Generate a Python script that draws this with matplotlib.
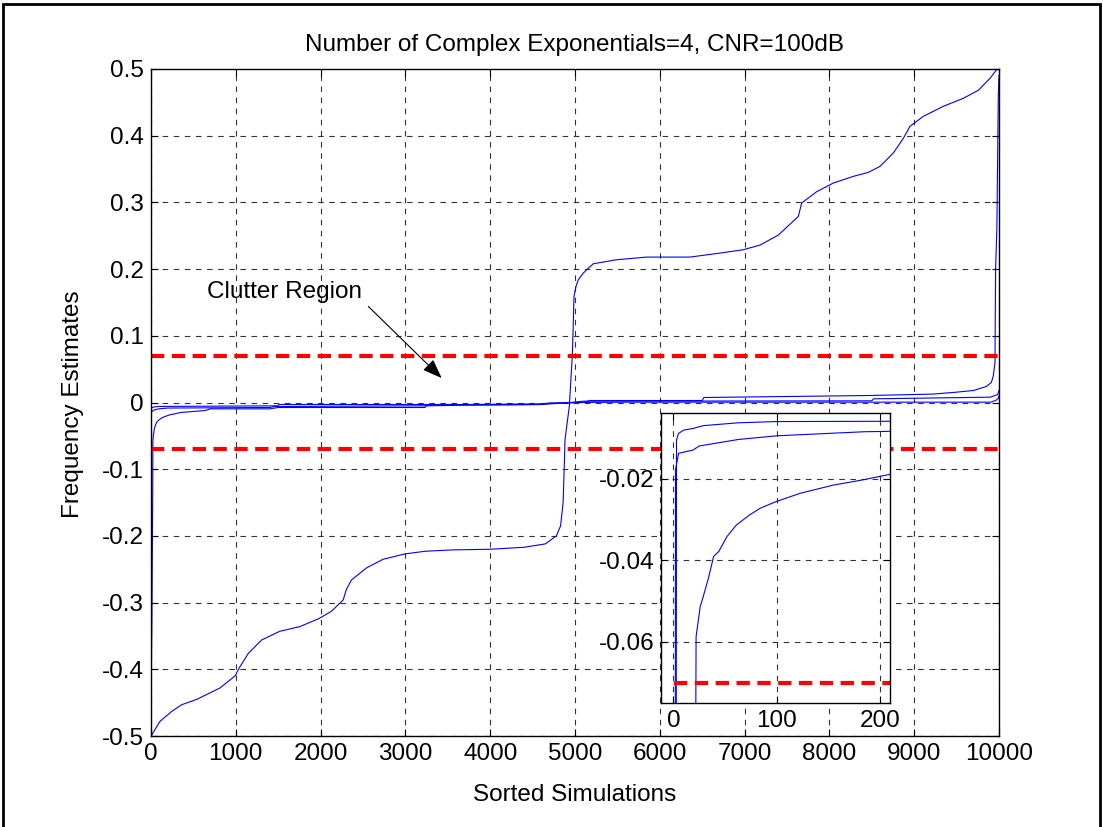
import numpy as np
import matplotlib
matplotlib.use("Agg")
import matplotlib.pyplot as plt
from matplotlib.patches import Rectangle
from matplotlib.ticker import FuncFormatter

plt.rcParams['font.family'] = ['Liberation Sans', 'DejaVu Sans']
plt.rcParams['axes.unicode_minus'] = False

# sorted frequency estimates, one array per estimate index
a_x = [1, 106, 245, 363, 540, 813, 990, 1050, 1148, 1305, 1518, 1754, 1979, 2128, 2266, 2305,
       2364, 2541, 2737, 2995, 3231, 3546, 4000, 4400, 4650, 4780, 4830, 4860, 4875, 4882, 4902,
       4933, 4949, 4968, 4980, 4988, 5012, 5039, 5098, 5137, 5216, 5492, 5846, 6356, 6710, 6985,
       7182, 7398, 7634, 7673, 7850, 8046, 8282, 8459, 8597, 8754, 8872, 8950, 9108, 9343, 9579,
       9756, 9894, 9972, 10000]
a_y = [-0.500, -0.478, -0.463, -0.453, -0.445, -0.428, -0.410, -0.396, -0.376, -0.356, -0.343,
       -0.336, -0.324, -0.313, -0.296, -0.280, -0.266, -0.248, -0.235, -0.227, -0.223, -0.221,
       -0.220, -0.217, -0.212, -0.200, -0.185, -0.150, -0.090, -0.056, -0.036, -0.006, 0.029,
       0.069, 0.119, 0.159, 0.174, 0.184, 0.194, 0.199, 0.208, 0.214, 0.218, 0.218, 0.224, 0.229,
       0.236, 0.251, 0.279, 0.299, 0.316, 0.329, 0.339, 0.345, 0.354, 0.374, 0.396, 0.414, 0.429,
       0.444, 0.456, 0.468, 0.486, 0.499, 0.500]

b_x = [1, 2, 3, 5, 10, 19, 29, 63, 100, 1500, 1510, 3700, 4600, 4700, 5000, 5600, 9900, 9960,
       9990, 10000]
b_y = [-0.46, -0.30, -0.0104, -0.0088, -0.0080, -0.0076, -0.0069, -0.0062, -0.0059, -0.0050,
       -0.0030, -0.0030, -0.0020, -0.0010, 0.0000, 0.0005, 0.0005, 0.0030, 0.0060, 0.0100]

c_x = [1, 2, 5, 19, 25, 51, 63, 100, 134, 185, 210, 1400, 1450, 3230, 3250, 4600, 4950, 5100,
       8500, 8520, 9900, 9985, 10000]
c_y = [-0.46, -0.0178, -0.0137, -0.0129, -0.0119, -0.0108, -0.0103, -0.0094, -0.0090, -0.0084,
       -0.0083, -0.0075, -0.0060, -0.0050, -0.0040, -0.0030, 0.0000, 0.0020, 0.0025, 0.0055,
       0.0080, 0.0120, 0.0180]

d_x = [1, 12, 21, 22, 26, 29, 34, 39, 44, 52, 61, 74, 84, 99, 123, 155, 184, 211, 350, 640, 700,
       1400, 1500, 3230, 3250, 3700, 4600, 4700, 5100, 5180, 6500, 6520, 8480, 9220, 9500, 9700,
       9850, 9910, 9933, 9953, 9960, 9975, 9992, 10000]
d_y = [-0.46, -0.30, -0.12, -0.0587, -0.0513, -0.0488, -0.0443, -0.0390, -0.0378, -0.0341,
       -0.0313, -0.0288, -0.0272, -0.0256, -0.0235, -0.0215, -0.0202, -0.0188, -0.0150, -0.0120,
       -0.0095, -0.0095, -0.0075, -0.0075, -0.0050, -0.0040, -0.0030, -0.0010, 0.0000, 0.0030,
       0.0030, 0.0075, 0.0105, 0.0126, 0.0155, 0.0180, 0.0240, 0.0300, 0.0400, 0.0600, 0.2000,
       0.2600, 0.4600, 0.4900]

n_sim = 10000
clutter_edge = 0.07

main_xticks = list(range(0, 10001, 1000))
main_yticks = [-0.5, -0.4, -0.3, -0.2, -0.1, 0, 0.1, 0.2, 0.3, 0.4, 0.5]
zoom_xticks = [0, 100, 200]
zoom_yticks = [-0.06, -0.04, -0.02]

curves = [(a_x, a_y), (b_x, b_y), (c_x, c_y), (d_x, d_y)]

FS = 17.5
grid_kw = dict(color='0.2', linestyle=(0, (5, 5)), linewidth=0.8)
red_kw = dict(color='red', linewidth=3.0, linestyle=(0, (3.2, 1.8)))


def style_axes(ax):
    ax.set_axisbelow(True)
    ax.grid(True, **grid_kw)
    ax.tick_params(direction='in', length=5, width=0.8, top=True, right=True,
                   labelsize=FS, pad=5)
    fmt = FuncFormatter(lambda v, p: '%g' % round(v, 6))
    ax.xaxis.set_major_formatter(fmt)
    ax.yaxis.set_major_formatter(fmt)
    for s in ax.spines.values():
        s.set_linewidth(1.0)


fig = plt.figure(figsize=(11.03, 8.27), dpi=100)
fig.patches.append(Rectangle((3 / 1103, -0.05), 1097 / 1103, 1.05 - 4 / 827,
                             transform=fig.transFigure, fill=False,
                             edgecolor='black', linewidth=2.0))

ax = fig.add_axes([0.1369, 0.110, 0.7688, 0.8066])
for cx, cy in curves:
    ax.plot(cx, cy, color='blue', linewidth=0.8)
ax.plot([1, n_sim], [clutter_edge, clutter_edge], **red_kw)
ax.plot([1, n_sim], [-clutter_edge, -clutter_edge], **red_kw)
ax.set_xlim(0, n_sim)
ax.set_ylim(-0.5, 0.5)
ax.set_xticks(main_xticks)
ax.set_yticks(main_yticks)
style_axes(ax)
ax.set_title('Number of Complex Exponentials=4, CNR=100dB', fontsize=FS, pad=13)
ax.set_xlabel('Sorted Simulations', fontsize=FS)
ax.set_ylabel('Frequency Estimates', fontsize=FS)
ax.xaxis.set_label_coords(0.5, -0.072)
ax.yaxis.set_label_coords(-0.079, 0.497)

ax.text(660, 0.166, 'Clutter Region', fontsize=FS, ha='left', va='center')
ax.annotate('', xy=(3428, 0.0366), xytext=(2563, 0.144),
            arrowprops=dict(arrowstyle='-|>,head_length=1.2,head_width=0.45',
                            color='black', lw=0.8, shrinkA=0, shrinkB=0))

# close-up of the first few hundred sorted runs
axin = fig.add_axes([0.5993, 0.1499, 0.2076, 0.3507])
for cx, cy in curves:
    axin.plot(cx, cy, color='blue', linewidth=0.8)
axin.plot([1, n_sim], [-clutter_edge, -clutter_edge], **red_kw)
axin.set_xlim(-12, 210)
axin.set_ylim(-0.075, -0.0038)
axin.set_xticks(zoom_xticks)
axin.set_yticks(zoom_yticks)
style_axes(axin)

fig.savefig('out.png', dpi=100)
